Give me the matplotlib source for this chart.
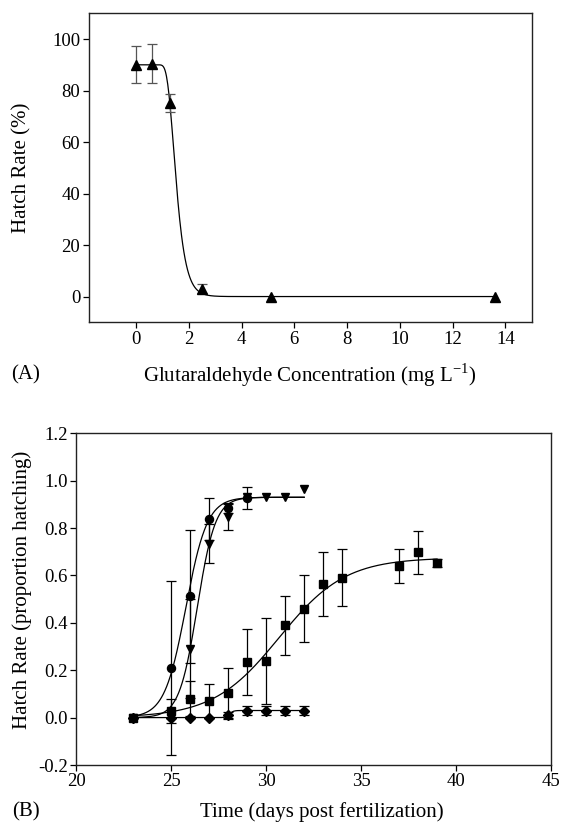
import numpy as np
import matplotlib
matplotlib.use("Agg")
import matplotlib.pyplot as plt

plt.rcParams['font.family'] = ['Liberation Serif', 'DejaVu Serif']
plt.rcParams['mathtext.fontset'] = 'custom'
plt.rcParams['mathtext.rm'] = 'Liberation Serif'
plt.rcParams['axes.unicode_minus'] = False

# panel A: hatch rate vs glutaraldehyde concentration
conc = [0, 0.6, 1.3, 2.5, 5.1, 13.6]
hatch_pct = [90, 90.4, 75, 3, 0, 0]
hatch_pct_err = [7.2, 7.5, 3.5, 1.8, 0, 0]
# fitted curve parameters
fitA_top, fitA_x0, fitA_b = 90.0, 1.43, 0.25

# panel B: hatch proportion vs time, four treatments
days_circle = [23, 25, 26, 27, 28, 29]
circle = [0, 0.21, 0.512, 0.838, 0.884, 0.927]
circle_err = [0, 0.367, 0.28, 0.09, 0.02, 0.045]

days_tri = [23, 25, 26, 27, 28, 29, 30, 31, 32]
tri = [0, 0.01, 0.291, 0.734, 0.846, 0.93, 0.931, 0.931, 0.963]
tri_err = [0, 0, 0.21, 0.082, 0.055, 0, 0, 0, 0]

days_sq = [23, 25, 26, 27, 28, 29, 30, 31, 32, 33, 34, 37, 38, 39]
sq = [0, 0.028, 0.08, 0.07, 0.104, 0.235, 0.239, 0.389, 0.46, 0.563, 0.591, 0.64, 0.697, 0.654]
sq_err = [0, 0.05, 0.073, 0.072, 0.107, 0.14, 0.18, 0.124, 0.14, 0.136, 0.122, 0.071, 0.089, 0.017]

days_dia = [23, 25, 26, 27, 28, 29, 30, 31, 32]
dia = [0, 0, 0, 0, 0.01, 0.03, 0.03, 0.03, 0.03]
dia_err = [0, 0, 0, 0, 0.015, 0.02, 0.02, 0.02, 0.02]

# logistic fits (max, midpoint, width, x range)
fits_B = {
    'circle': (0.93, 25.77, 0.56, 23, 32),
    'tri': (0.93, 26.37, 0.475, 23, 32),
    'sq': (0.675, 30.68, 1.74, 23, 39),
    'dia': (0.03, 28.07, 0.1, 23, 32),
}


def err_only(ax, x, y, e, color):
    x, y, e = np.array(x), np.array(y), np.array(e)
    m = e > 0
    ax.errorbar(x[m], y[m], yerr=e[m], fmt='none', ecolor=color,
                elinewidth=0.9, capsize=3.6, capthick=0.9, zorder=2)


fig = plt.figure(figsize=(5.64, 8.23), dpi=100)
W, H = 564, 823

# ---------- panel A ----------
axA = fig.add_axes([88.5 / W, 1 - 322.3 / H, 443.2 / W, 309 / H])
xa = np.linspace(0, 13.6, 600)
ya = fitA_top * (1 - np.exp(-np.exp(-(xa - fitA_x0) / fitA_b)))
axA.plot(xa, ya, color='black', lw=0.9, zorder=1)
err_only(axA, conc, hatch_pct, hatch_pct_err, '#555555')
axA.plot(conc, hatch_pct, '^', color='black', ms=6.5, zorder=3)
axA.set_xlim(-1.8, 15)
axA.set_ylim(-10, 110)
axA.set_xticks(range(0, 15, 2))
axA.set_yticks(range(0, 101, 20))

# ---------- panel B ----------
axB = fig.add_axes([76.3 / W, 1 - 765 / H, 474.7 / W, 331.7 / H])
for key, (a, x0, s, x1, x2) in fits_B.items():
    xb = np.linspace(x1, x2, 400)
    axB.plot(xb, a / (1 + np.exp(-(xb - x0) / s)), color='black', lw=0.9, zorder=1)

err_only(axB, days_circle, circle, circle_err, 'black')
err_only(axB, days_tri, tri, tri_err, 'black')
err_only(axB, days_sq, sq, sq_err, 'black')
err_only(axB, days_dia, dia, dia_err, 'black')

axB.plot(days_dia, dia, 'D', color='black', ms=4.8, zorder=3)
axB.plot(days_sq, sq, 's', color='black', ms=5.5, zorder=3)
axB.plot(days_tri, tri, 'v', color='black', ms=6, zorder=3)
axB.plot(days_circle, circle, 'o', color='black', ms=5.8, zorder=4)

axB.set_xlim(20, 45)
axB.set_ylim(-0.2, 1.2)
axB.set_xticks(range(20, 46, 5))
axB.set_yticks(np.arange(-0.2, 1.21, 0.2))
axB.set_yticklabels(['%.1f' % v for v in np.arange(-0.2, 1.21, 0.2)])

for ax in (axA, axB):
    for sp in ax.spines.values():
        sp.set_linewidth(1.0)
        sp.set_color('#222222')
    ax.tick_params(direction='out', length=4, width=0.9, labelsize=13.5,
                   pad=2, top=False, right=False)

# axis labels
fig.text(22 / W, 1 - 168 / H, 'Hatch Rate (%)', rotation=90, ha='center', va='center', fontsize=15)
fig.text(310 / W, 1 - 375 / H, r'Glutaraldehyde Concentration (mg L$^{\mathrm{-1}}$)',
         ha='center', va='center', fontsize=15)
fig.text(11 / W, 1 - 375 / H, '(A)', ha='left', va='center', fontsize=15)

fig.text(22 / W, 1 - 590 / H, 'Hatch Rate (proportion hatching)', rotation=90,
         ha='center', va='center', fontsize=15)
fig.text(322 / W, 1 - 812 / H, 'Time (days post fertilization)', ha='center', va='center', fontsize=15)
fig.text(12 / W, 1 - 812 / H, '(B)', ha='left', va='center', fontsize=15)

fig.savefig('out.png', dpi=100)
